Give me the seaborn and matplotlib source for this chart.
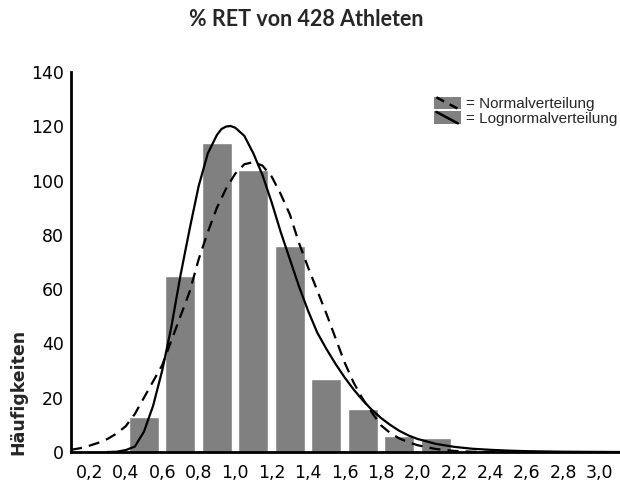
import matplotlib
matplotlib.use("Agg")
import matplotlib.pyplot as plt
import seaborn as sns
import pandas as pd
from matplotlib.legend_handler import HandlerBase
from matplotlib.patches import Rectangle
from matplotlib.lines import Line2D

# ---- data ----
bin_centers = [0.5, 0.7, 0.9, 1.1, 1.3, 1.5, 1.7, 1.9, 2.1]
counts = [13, 65, 114, 104, 76, 27, 16, 6, 5]

x_norm = [0.10, 0.15, 0.20, 0.25, 0.30, 0.35, 0.40, 0.45, 0.50, 0.55, 0.60, 0.65,
          0.70, 0.75, 0.80, 0.85, 0.90, 0.95, 1.00, 1.05, 1.10, 1.15, 1.20, 1.25,
          1.30, 1.35, 1.40, 1.45, 1.50, 1.55, 1.60, 1.65, 1.70, 1.75, 1.80, 1.85,
          1.90, 1.95, 2.00, 2.10, 2.20, 2.30, 2.40, 2.50]
y_norm = [0.8, 1.4, 2.3, 3.4, 4.8, 6.8, 9.5, 14, 20, 26, 32, 41,
          50, 59, 71, 81, 90, 97, 102.5, 106, 106.8, 105.5, 101.5, 95,
          87.5, 77, 68, 59.5, 51, 42, 33, 25.5, 19.5, 14.5, 9.8, 7,
          5, 3.6, 2.5, 1.1, 0.4, 0.1, 0.0, 0.0]

x_log = [0.30, 0.35, 0.40, 0.45, 0.50, 0.55, 0.60, 0.65, 0.70, 0.75, 0.80, 0.85,
         0.90, 0.925, 0.95, 0.975, 1.00, 1.05, 1.10, 1.15, 1.20, 1.25, 1.30, 1.35,
         1.40, 1.45, 1.50, 1.55, 1.60, 1.65, 1.70, 1.75, 1.80, 1.85, 1.90, 1.95,
         2.00, 2.10, 2.20, 2.30, 2.40, 2.50, 2.60, 2.80, 3.11]
y_log = [0.0, 0.1, 0.7, 2.0, 7.5, 17, 30, 46, 65, 82, 98, 110,
         116.8, 119, 119.9, 120.1, 119.5, 116.5, 110, 102, 92, 81, 71, 61,
         52, 44, 38, 32.5, 27.5, 23, 19, 15.5, 12.5, 10, 7.8, 6.1,
         4.8, 3.0, 1.9, 1.2, 0.8, 0.5, 0.3, 0.1, 0.0]

x_ticks = [0.2, 0.4, 0.6, 0.8, 1.0, 1.2, 1.4, 1.6, 1.8, 2.0, 2.2, 2.4, 2.6, 2.8, 3.0]
x_ticklabels = ["0,2", "0,4", "0,6", "0,8", "1,0", "1,2", "1,4", "1,6", "1,8",
                "2,0", "2,2", "2,4", "2,6", "2,8", "3,0"]
y_ticks = [0, 20, 40, 60, 80, 100, 120, 140]
y_ticklabels = ["0", "20", "40", "60", "80", "100", "120", "140"]

title = "% RET von 428 Athleten"
ylabel = "Häufigkeiten"
legend_labels = ["= Normalverteilung", "= Lognormalverteilung"]

# ---- style ----
sns.set_style("white")
plt.rcParams["font.family"] = ["DejaVu Sans"]

fig = plt.figure(figsize=(6.2, 4.82), dpi=100)
ax = fig.add_axes([71 / 620, 30 / 482, 1 - 71 / 620, 380 / 482])

bars_df = pd.DataFrame({"x": bin_centers, "n": counts})
sns.barplot(data=bars_df, x="x", y="n", native_scale=True, width=0.82,
            color="#808080", saturation=1, ax=ax, zorder=2)

sns.lineplot(x=x_norm, y=y_norm, ax=ax, color="black", linewidth=1.6,
             linestyle=(0, (5, 3.2)), zorder=3)
sns.lineplot(x=x_log, y=y_log, ax=ax, color="black", linewidth=1.6, zorder=4)

ax.set_xlim(0.1, 3.11)
ax.set_ylim(0, 140)
ax.set_xticks(x_ticks)
ax.set_xticklabels(x_ticklabels)
ax.set_yticks(y_ticks)
ax.set_yticklabels(y_ticklabels)
ax.set_xlabel("")
ax.set_ylabel("")
ax.tick_params(axis="both", direction="in", length=3, width=1.2, labelsize=12.5,
               colors="black")
ax.tick_params(axis="x", pad=9)
ax.tick_params(axis="y", pad=5)
for s in ["top", "right"]:
    ax.spines[s].set_visible(False)
for s in ["left", "bottom"]:
    ax.spines[s].set_linewidth(2)
    ax.spines[s].set_color("black")
    ax.spines[s].set_zorder(5)

fig.text(0.494, 1 - 20 / 482, title, ha="center", va="center",
         fontsize=15.5, fontweight="bold", family=["Lato", "DejaVu Sans"])
fig.text(18 / 620, 1 - 392 / 482, ylabel, rotation=90, ha="center", va="center",
         fontsize=12.5, fontweight="bold", family=["DejaVu Sans"])


class PatchLineHandler(HandlerBase):
    def __init__(self, dashed):
        super().__init__()
        self.dashed = dashed

    def create_artists(self, legend, orig_handle, xdescent, ydescent, width,
                       height, fontsize, trans):
        rect = Rectangle((-xdescent, -ydescent), width, height,
                         facecolor="#808080", edgecolor="none", transform=trans)
        ls = (0, (3.5, 2.5)) if self.dashed else "-"
        line = Line2D([-xdescent + 0.1 * width, -xdescent + 0.9 * width],
                      [-ydescent + height * 0.95, -ydescent + height * 0.05],
                      color="black", linewidth=1.8, linestyle=ls, transform=trans)
        return [rect, line]


h1 = Rectangle((0, 0), 1, 1)
h2 = Rectangle((0, 0), 1, 1)
leg = fig.legend([h1, h2], legend_labels,
                 handler_map={h1: PatchLineHandler(True), h2: PatchLineHandler(False)},
                 loc="upper left", bbox_to_anchor=(423 / 620, 1 - 86 / 482),
                 frameon=False, fontsize=11, handlelength=1.76, handleheight=0.9,
                 handletextpad=0.35, labelspacing=0.0, borderpad=0.2,
                 prop={"family": ["Liberation Sans", "DejaVu Sans"], "size": 11})

fig.savefig("out.png", dpi=100)
